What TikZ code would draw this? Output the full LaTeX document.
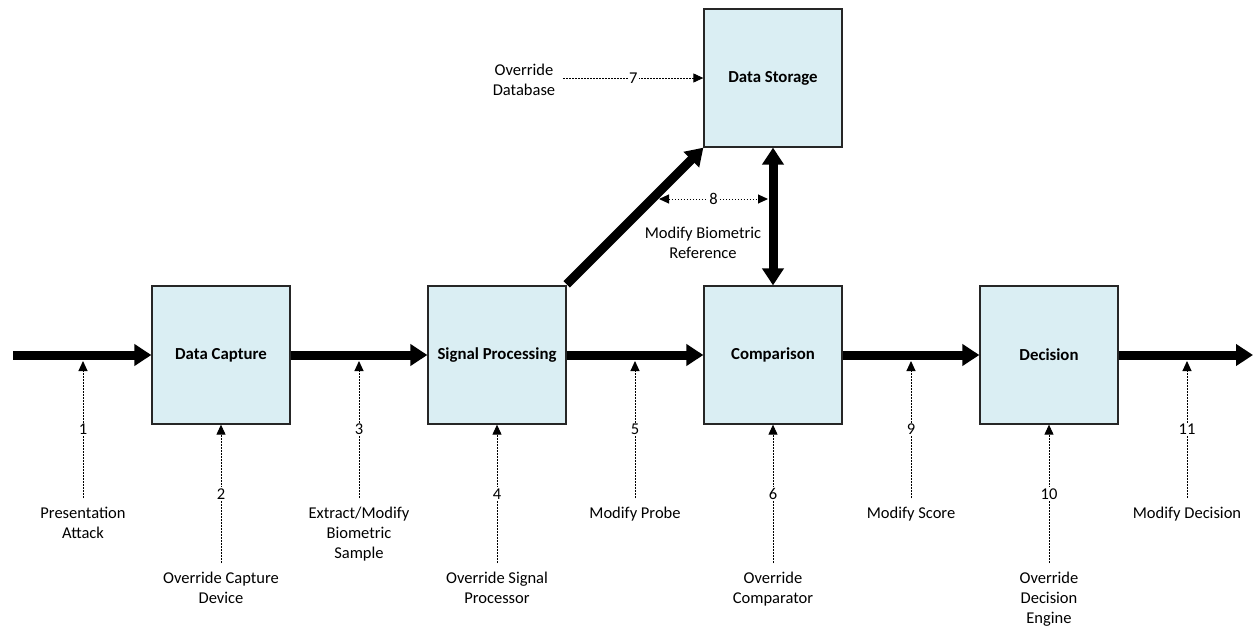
\documentclass[tikz,border=0pt]{standalone}
\usepackage{fontspec}
\setmainfont{Carlito}
\usetikzlibrary{arrows.meta,calc}
\definecolor{boxfill}{HTML}{DAEEF3}
\begin{document}
\begin{tikzpicture}[x=1pt,y=-1pt,
  font=\fontsize{16.5}{20}\selectfont,
  block/.style={draw=black!85,line width=1.3pt,fill=boxfill,minimum width=138pt,minimum height=138pt,inner sep=0pt,font=\fontsize{16.8}{20}\selectfont\bfseries},
  flow/.style={line width=9pt,-{Triangle[length=17pt,width=21pt]}},
  flow2/.style={line width=9pt,{Triangle[length=17pt,width=21pt]}-{Triangle[length=17pt,width=21pt]}},
  attack/.style={line width=1pt,dash pattern=on 1.6pt off 1.4pt,-{Triangle[length=10pt,width=9pt]}},
  attack2/.style={line width=1pt,dash pattern=on 1.6pt off 1.4pt,{Triangle[length=10pt,width=9pt]}-{Triangle[length=10pt,width=9pt]}},
  num/.style={fill=white,inner sep=1.5pt},
  lbl/.style={align=center,inner xsep=2pt,inner ysep=9pt,anchor=north}
]
\useasboundingbox (0,0) rectangle (1254,632);
% blocks
\node[block] (dc) at (221,355) {Data Capture};
\node[block] (sp) at (497,355) {Signal Processing};
\node[block] (cmp) at (773,355) {Comparison};
\node[block] (dec) at (1049,355) {Decision};
\node[block] (ds) at (773,78) {Data Storage};
% main flow
\coordinate (in) at (13,355);
\coordinate (out) at (1253,355);
\draw[flow] (in) -- (dc.west);
\draw[flow] (dc.east) -- (sp.west);
\draw[flow] (sp.east) -- (cmp.west);
\draw[flow] (cmp.east) -- (dec.west);
\draw[flow] (dec.east) -- (out);
\draw[flow] ([shift={(0,-1)}]sp.north east) -- (ds.south west);
\draw[flow2] (cmp.north) -- (ds.south);
% attack points on flow arrows
\coordinate (p1) at (83,361);
\coordinate (p3) at (359,361);
\coordinate (p5) at (635,361);
\coordinate (p9) at (911,361);
\coordinate (p11) at (1187,361);
\node[lbl] (t1) at (83,498) {Presentation\\Attack};
\node[lbl] (t3) at (359,498) {Extract/Modify\\Biometric\\Sample};
\node[lbl] (t5) at (635,498) {Modify Probe};
\node[lbl] (t9) at (911,498) {Modify Score};
\node[lbl] (t11) at (1187,498) {Modify Decision};
\draw[attack] (t1.north) -- node[num]{1} (p1);
\draw[attack] (t3.north) -- node[num]{3} (p3);
\draw[attack] (t5.north) -- node[num]{5} (p5);
\draw[attack] (t9.north) -- node[num]{9} (p9);
\draw[attack] (t11.north) -- node[num]{11} (p11);
% attack points on blocks
\node[lbl] (t2) at (221,563) {Override Capture\\Device};
\node[lbl] (t4) at (497,563) {Override Signal\\Processor};
\node[lbl] (t6) at (773,563) {Override\\Comparator};
\node[lbl] (t10) at (1049,563) {Override\\Decision\\Engine};
\draw[attack] (t2.north) -- node[num]{2} (dc.south);
\draw[attack] (t4.north) -- node[num]{4} (sp.south);
\draw[attack] (t6.north) -- node[num]{6} (cmp.south);
\draw[attack] (t10.north) -- node[num]{10} (dec.south);
% database attacks
\node[align=center,inner xsep=8pt,inner ysep=2pt] (t7) at (524,80) {Override\\Database};
\draw[attack] (t7.east |- ds.west) -- node[num]{7} (ds.west);
\coordinate (m8l) at (659,199);
\coordinate (m8r) at (768,199);
\draw[attack2] (m8l) -- node[num,pos=0.5]{8} (m8r);
\node[align=center,inner sep=0pt] (t8) at (703,243) {Modify Biometric\\Reference};
\end{tikzpicture}
\end{document}
